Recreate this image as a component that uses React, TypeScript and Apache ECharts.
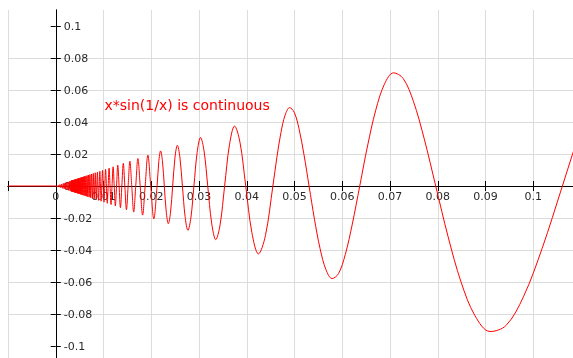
import React, { useEffect, useRef } from 'react';
import * as echarts from 'echarts';

// Points read along the curve y = x*sin(1/x), ordered by x.
const negativeSide: [number, number][] = [
  [-0.01, 0], [0, 0],
];

const denseCore: [number, number][] = [
  [0.00035309, -0.00035309], [0.00053008, 0.00053008], [0.000705, -0.000705], [0.00088297, 0.00088297],
  [0.0010558, -0.0010558], [0.001241, 0.001241], [0.0014116, -0.0014116], [0.0015876, 0.0015876],
  [0.0017538, -0.0017538], [0.001935, 0.001935], [0.0021011, -0.0021011], [0.0022655, 0.0022655],
  [0.0024206, -0.0024206], [0.0025567, 0.0025567], [0.002709, -0.002709], [0.0028806, 0.0028806],
  [0.0030172, -0.0030172],
  [0.0031673, 0.0031673], [0.0031991, -0.0031991], [0.0032316, 0.0032316], [0.0032647, -0.0032647],
  [0.0032985, 0.0032985], [0.0033331, -0.0033331], [0.0033683, 0.0033683], [0.0034044, -0.0034044],
  [0.0034412, 0.0034412], [0.0034788, -0.0034788], [0.0035172, 0.0035172], [0.0035565, -0.0035565],
  [0.0035967, 0.0035967], [0.0036378, -0.0036378], [0.0036799, 0.0036799], [0.0037229, -0.0037229],
  [0.003767, 0.003767], [0.0038121, -0.0038121], [0.0038583, 0.0038583], [0.0039057, -0.0039057],
  [0.0039542, 0.0039542], [0.0040039, -0.0040039], [0.0040549, 0.0040549], [0.0041072, -0.0041072],
  [0.0041609, 0.0041609], [0.004216, -0.004216], [0.0042726, 0.0042726], [0.0043308, -0.0043308],
  [0.0043905, 0.0043905], [0.0044519, -0.0044519], [0.004515, 0.004515], [0.00458, -0.00458],
  [0.0046469, 0.0046469], [0.0047157, -0.0047157], [0.0047866, 0.0047866], [0.0048597, -0.0048597],
  [0.004935, 0.004935], [0.0050128, -0.0050128], [0.005093, 0.005093], [0.0051758, -0.0051758],
  [0.0052613, 0.0052613], [0.0053497, -0.0053497], [0.0054412, 0.0054412], [0.0055358, -0.0055358],
  [0.0056338, 0.0056338], [0.0057353, -0.0057353], [0.0058406, 0.0058406], [0.0059497, -0.0059497],
  [0.006063, 0.006063], [0.0061808, -0.0061808], [0.0063032, 0.0063032], [0.0064305, -0.0064305],
  [0.0065631, 0.0065631], [0.0067013, -0.0067013], [0.0068454, 0.0068454], [0.0069958, -0.0069958],
  [0.007153, 0.007153], [0.0073175, -0.0073175], [0.0074896, 0.0074896], [0.0076701, -0.0076701],
];

const fastWaves: [number, number][] = [
  [0.0078595, 0.0078595], [0.0079577, 0], [0.0080585, -0.0080585], [0.0081618, 0],
  [0.0082678, 0.0082678], [0.0083766, 0], [0.0084883, -0.0084883], [0.008603, 0],
  [0.0087208, 0.0087208], [0.0088419, 0], [0.0089665, -0.0089665], [0.0090946, 0],
  [0.0092264, 0.0092264], [0.0093621, 0], [0.0095018, -0.0095018], [0.0096457, 0],
  [0.0097942, 0.0097942], [0.0099472, 0], [0.010105, -0.010105], [0.010268, 0],
  [0.010436, 0.010436], [0.01061, 0], [0.01079, -0.01079], [0.010976, 0],
  [0.011169, 0.011169], [0.011368, 0], [0.011575, -0.011575], [0.011789, 0],
  [0.012012, 0.012012], [0.012243, 0], [0.012483, -0.012483], [0.012732, 0],
  [0.012992, 0.012992], [0.013263, 0], [0.013545, -0.013545], [0.01384, 0],
  [0.014147, 0.014147], [0.014469, 0], [0.014805, -0.014805], [0.015158, 0],
  [0.015527, 0.015527], [0.015915, 0], [0.016324, -0.016324], [0.016753, 0],
  [0.017206, 0.017206], [0.017684, 0], [0.018189, -0.018189], [0.018724, 0],
  [0.019292, 0.019292], [0.019894, 0], [0.020536, -0.020536], [0.021221, 0],
];

const mediumWaves: [number, number][] = [
  [0.02158, 0.015259], [0.021952, 0.021952], [0.022337, 0.015795], [0.022736, 0],
  [0.02315, -0.01637], [0.023579, -0.023579], [0.024023, -0.016987], [0.024485, 0],
  [0.024965, 0.017653], [0.025465, 0.025465], [0.025984, 0.018374], [0.026526, 0],
  [0.02709, -0.019156], [0.027679, -0.027679], [0.028294, -0.020007], [0.028937, 0],
  [0.02961, 0.020938], [0.030315, 0.030315], [0.031055, 0.021959], [0.031831, 0],
  [0.032647, -0.023085], [0.033506, -0.033506], [0.034412, -0.024333], [0.035368, 0],
  [0.036378, 0.025723], [0.037448, 0.037448], [0.038583, 0.027282], [0.039789, 0],
  [0.041072, -0.029042], [0.042441, -0.042441], [0.043905, -0.031046], [0.045473, 0],
];

const largeWaves: [number, number][] = [
  [0.0463, 0.017718], [0.047157, 0.033345], [0.048047, 0.04439], [0.048971, 0.048971],
  [0.049931, 0.04613], [0.05093, 0.036013], [0.051969, 0.019888], [0.053052, 0],
  [0.05418, -0.020734], [0.055358, -0.039144], [0.056588, -0.052281], [0.057875, -0.057875],
  [0.05922, -0.054712], [0.06063, -0.042872], [0.062109, -0.023768], [0.063662, 0],
  [0.065294, 0.024987], [0.067013, 0.047385], [0.068824, 0.063585], [0.070736, 0.070736],
  [0.072757, 0.067219], [0.074897, 0.05296], [0.077166, 0.02953], [0.079577, 0],
  [0.082144, -0.031435], [0.084883, -0.060021], [0.08781, -0.081126], [0.090946, -0.090946],
  [0.094314, -0.087135], [0.097941, -0.069255], [0.101859, -0.03898], [0.106103, 0],
  [0.108108, 0.018799], [0.11, 0.036047],
];

const yTickValues = [-0.1, -0.08, -0.06, -0.04, -0.02, 0, 0.02, 0.04, 0.06, 0.08, 0.1];
const annotationText = 'x*sin(1/x) is continuous';

const fmt = (v: number) => String(+v.toFixed(4));

export default function App() {
  const ref = useRef<HTMLDivElement>(null);

  useEffect(() => {
    if (!ref.current) return;
    const chart = echarts.init(ref.current, null, { renderer: 'svg' });
    const curve = [...negativeSide, ...denseCore, ...fastWaves, ...mediumWaves, ...largeWaves];

    const gridLeft = 8;
    const gridTop = 10;
    const gridWidth = 573;
    const gridHeight = 352;
    const xMin = -0.01;
    const xMax = 0.11;
    const yMin = -0.11;
    const yMax = 0.11;
    // shift axes so they cross at the origin
    const xAxisOffset = -(gridHeight * (0 - yMin)) / (yMax - yMin);
    const yAxisOffset = -(gridWidth * (0 - xMin)) / (xMax - xMin);

    const labelStyle = { color: '#2a2a2a', fontSize: 11, fontFamily: 'DejaVu Sans' };
    const gridLine = { show: true, lineStyle: { color: '#dcdcdc', width: 1 } };

    const xBase = {
      type: 'value',
      min: xMin,
      max: xMax,
      interval: 0.01,
      position: 'bottom',
      offset: xAxisOffset,
      axisLine: { show: true, onZero: false, lineStyle: { color: '#000', width: 1 } },
    };
    const yBase = {
      type: 'value',
      min: yMin,
      max: yMax,
      splitNumber: 11,
      position: 'left',
      offset: yAxisOffset,
      axisLine: { show: true, onZero: false, lineStyle: { color: '#000', width: 1 } },
    };

    chart.setOption({
      animation: false,
      textStyle: { fontFamily: 'DejaVu Sans' },
      grid: {
        left: gridLeft,
        top: gridTop,
        width: gridWidth,
        height: gridHeight,
        containLabel: false,
        outerBoundsMode: 'none',
      },
      xAxis: [
        {
          ...xBase,
          axisTick: { show: true, inside: true, length: 5, lineStyle: { color: '#000' } },
          axisLabel: {
            ...labelStyle,
            margin: 5,
            showMinLabel: true,
            showMaxLabel: true,
            formatter: (v: number) => (v < -0.0001 || v > 0.105 ? '' : fmt(v)),
          },
          splitLine: gridLine,
        },
        {
          ...xBase,
          axisTick: { show: true, inside: false, length: 5, lineStyle: { color: '#000' } },
          axisLabel: { show: false },
          splitLine: { show: false },
        },
      ],
      yAxis: [
        {
          ...yBase,
          axisTick: { show: true, inside: true, length: 5, customValues: yTickValues, lineStyle: { color: '#000' } },
          axisLabel: {
            ...labelStyle,
            inside: true,
            margin: 8,
            customValues: yTickValues,
            formatter: (v: number) => (Math.abs(v) > 0.105 ? '' : fmt(v)),
          },
          splitLine: { ...gridLine, showMaxLine: false, showMinLine: false },
        },
        {
          ...yBase,
          axisTick: { show: true, inside: false, length: 5, customValues: yTickValues, lineStyle: { color: '#000' } },
          axisLabel: { show: false },
          splitLine: { show: false },
        },
      ],
      graphic: [
        {
          type: 'text',
          x: 104.5,
          y: 105,
          z: 10,
          style: {
            text: annotationText,
            fill: '#ff0000',
            font: '14px "DejaVu Sans"',
            align: 'left',
            verticalAlign: 'middle',
          },
        },
      ],
      series: [
        {
          type: 'line',
          xAxisIndex: 0,
          yAxisIndex: 0,
          data: curve,
          showSymbol: false,
          smooth: 0.35,
          clip: true,
          lineStyle: { color: '#ff0000', width: 1 },
        },
      ],
    });

    return () => chart.dispose();
  }, []);

  return (
    <div
      ref={ref}
      style={{ position: 'fixed', left: 0, top: 0, width: 573, height: 358 }}
    />
  );
}
